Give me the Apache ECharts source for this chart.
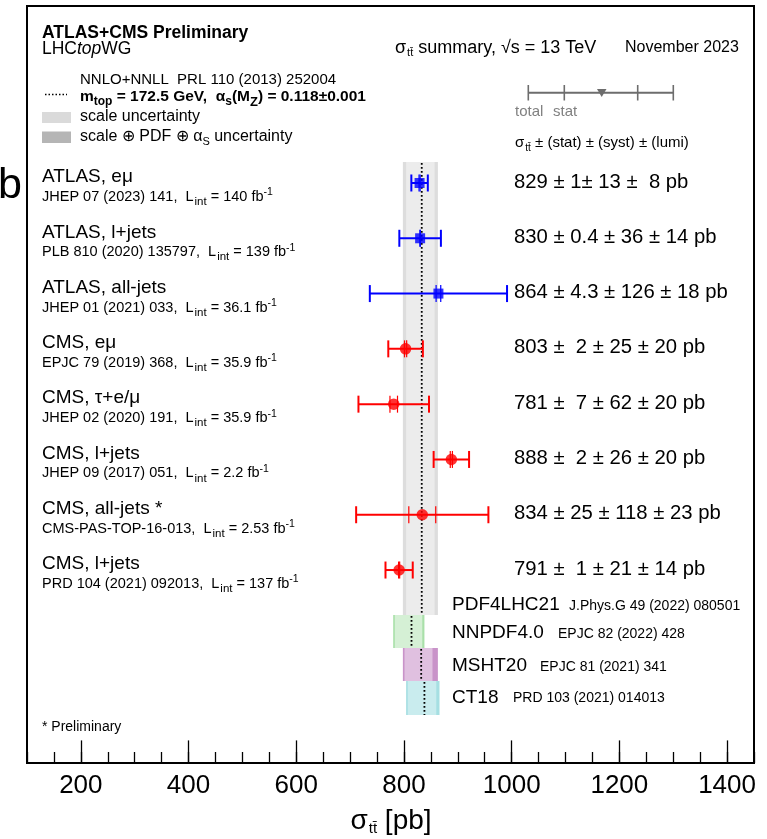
<!DOCTYPE html>
<html><head><meta charset="utf-8">
<script src="https://cdn.jsdelivr.net/npm/echarts@6/dist/echarts.min.js"></script>
<style>html,body{margin:0;padding:0;background:#fff}#c{width:767px;height:839px}</style>
</head><body><div id="c"></div>
<script>
// ---------------- DATA ----------------
const rowTitles = ['ATLAS, eμ', 'ATLAS, l+jets', 'ATLAS, all-jets', 'CMS, eμ', 'CMS, τ+e/μ', 'CMS, l+jets', 'CMS, all-jets *', 'CMS, l+jets'];
const rowRefs = ['JHEP 07 (2023) 141', 'PLB 810 (2020) 135797', 'JHEP 01 (2021) 033', 'EPJC 79 (2019) 368', 'JHEP 02 (2020) 191', 'JHEP 09 (2017) 051', 'CMS-PAS-TOP-16-013', 'PRD 104 (2021) 092013'];
const rowLumi = ['140', '139', '36.1', '35.9', '35.9', '2.2', '2.53', '137'];
const experiment = ['ATLAS', 'ATLAS', 'ATLAS', 'CMS', 'CMS', 'CMS', 'CMS', 'CMS'];
const xsec = [829, 830, 864, 803, 781, 888, 834, 791];
const statErr = [1, 0.4, 4.3, 2, 7, 2, 25, 1];
const systErr = [13, 36, 126, 25, 62, 26, 118, 21];
const lumiErr = [8, 14, 18, 20, 20, 20, 23, 14];
const totalErr = [15.3, 38.6, 127.4, 32.1, 65.5, 32.9, 122.8, 25.3];
const valueLabels = ['829 ± 1± 13 ±  8 pb', '830 ± 0.4 ± 36 ± 14 pb', '864 ± 4.3 ± 126 ± 18 pb', '803 ±  2 ± 25 ± 20 pb', '781 ±  7 ± 62 ± 20 pb', '888 ±  2 ± 26 ± 20 pb', '834 ± 25 ± 118 ± 23 pb', '791 ±  1 ± 21 ± 14 pb'];

const theoryNames = ['PDF4LHC21', 'NNPDF4.0', 'MSHT20', 'CT18'];
const theoryRefs = ['J.Phys.G 49 (2022) 080501', 'EPJC 82 (2022) 428', 'EPJC 81 (2021) 341', 'PRD 103 (2021) 014013'];
const theoryCentral = [833, 814, 832, 838];
const theoryScaleLo = [804, 783, 801, 807];
const theoryScaleHi = [857, 834, 853, 860];
const theoryTotalLo = [798, 780, 798, 804];
const theoryTotalHi = [863, 838, 863, 866];

const xTickLabels = [200, 400, 600, 800, 1000, 1200, 1400];

// ---------------- LAYOUT / STYLE ----------------
const FONT = '"Liberation Sans", Arial, Helvetica, sans-serif';
const BLUE = '#0000ff', RED = '#ff0000';
const Y_MIN = -3.201, Y_MAX = 10.49;
const bandRows = [[-0.38, 7.813], [7.813, 8.41], [8.41, 9.007], [9.007, 9.62]];
const bandOuter = ['#dddddd', '#a9e0a9', '#c993c9', '#a6dfe2'];
const bandInner = ['#ececec', '#d5f0d5', '#e0c0e0', '#c9ecee'];

const chart = echarts.init(document.getElementById('c'), null, {renderer: 'canvas'});

const grid = {left: 27, right: 13, top: 6, bottom: 76};

const bandSeries = {
  type: 'custom', xAxisIndex: 0, yAxisIndex: 0, z: 2, silent: true,
  data: theoryNames.map((n, i) => [theoryCentral[i], theoryTotalLo[i], theoryTotalHi[i], theoryScaleLo[i], theoryScaleHi[i], bandRows[i][0], bandRows[i][1]]),
  encode: {x: 0, y: 5},
  renderItem(params, api) {
    const i = params.dataIndex;
    const c = api.value(0), tl = api.value(1), th = api.value(2), sl = api.value(3), sh = api.value(4), y0 = api.value(5), y1 = api.value(6);
    const a = api.coord([tl, y0]), b = api.coord([th, y1]);
    const a2 = api.coord([sl, y0]), b2 = api.coord([sh, y1]);
    const c0 = api.coord([c, y0]), c1 = api.coord([c, y1]);
    return {type: 'group', children: [
      {type: 'rect', shape: {x: a[0], y: a[1], width: b[0] - a[0], height: b[1] - a[1]}, style: {fill: bandOuter[i]}},
      {type: 'rect', shape: {x: a2[0], y: a2[1], width: b2[0] - a2[0], height: b2[1] - a2[1]}, style: {fill: bandInner[i]}},
      {type: 'line', shape: {x1: c0[0], y1: c0[1] + 1, x2: c1[0], y2: c1[1]}, style: {stroke: '#000', lineWidth: 1.8, lineDash: [1.8, 2.2]}}
    ]};
  }
};

const barSeries = {
  type: 'custom', xAxisIndex: 0, yAxisIndex: 0, z: 5, silent: true,
  data: xsec.map((v, i) => [v, i, totalErr[i], statErr[i], experiment[i] === 'ATLAS' ? 0 : 1]),
  encode: {x: 0, y: 1},
  renderItem(params, api) {
    const c = api.value(0), r = api.value(1), t = api.value(2), s = api.value(3);
    const col = api.value(4) === 0 ? BLUE : RED;
    const L = api.coord([c - t, r]), R = api.coord([c + t, r]);
    const sL = api.coord([c - s, r]), sR = api.coord([c + s, r]);
    const h = 8.5;
    const ln = (x1, y1, x2, y2, w) => ({type: 'line', shape: {x1, y1, x2, y2}, style: {stroke: col, lineWidth: w}});
    return {type: 'group', children: [
      ln(L[0], L[1], R[0], R[1], 2),
      ln(L[0], L[1] - h, L[0], L[1] + h, 2),
      ln(R[0], R[1] - h, R[0], R[1] + h, 2),
      ln(sL[0], sL[1] - h, sL[0], sL[1] + h, 1.2),
      ln(sR[0], sR[1] - h, sR[0], sR[1] + h, 1.2)
    ]};
  }
};

const atlasPts = [], cmsPts = [];
xsec.forEach((v, i) => (experiment[i] === 'ATLAS' ? atlasPts : cmsPts).push([v, i]));

chart.setOption({
  animation: false,
  backgroundColor: '#fff',
  grid: [Object.assign({show: true, borderColor: '#000', borderWidth: 2, backgroundColor: 'transparent'}, grid), Object.assign({show: false}, grid)],
  xAxis: [
    {gridIndex: 0, type: 'value', min: 100, max: 1450, interval: 50, position: 'bottom',
      axisLine: {show: true, onZero: false, lineStyle: {color: '#000', width: 2}},
      axisTick: {show: true, inside: true, length: 11, lineStyle: {color: '#000', width: 1.3}},
      axisLabel: {show: true, formatter: v => (xTickLabels.indexOf(v) >= 0 ? String(v) : ''), fontSize: 26, color: '#000', margin: 10, fontFamily: FONT},
      splitLine: {show: false}},
    {gridIndex: 1, type: 'value', min: 100, max: 1450, interval: 50, position: 'bottom',
      axisLine: {show: false, onZero: false},
      axisTick: {show: true, inside: true, length: 22.6, customValues: xTickLabels, lineStyle: {color: '#000', width: 1.3}},
      axisLabel: {show: false}, splitLine: {show: false}}
  ],
  yAxis: [
    {gridIndex: 0, type: 'value', inverse: true, min: Y_MIN, max: Y_MAX, show: false},
    {gridIndex: 1, type: 'value', inverse: true, min: Y_MIN, max: Y_MAX, show: false}
  ],
  series: [
    bandSeries,
    barSeries,
    {type: 'scatter', xAxisIndex: 0, yAxisIndex: 0, z: 6, silent: true, data: atlasPts, symbol: 'rect', symbolSize: 10, itemStyle: {color: BLUE}},
    {type: 'scatter', xAxisIndex: 0, yAxisIndex: 0, z: 6, silent: true, data: cmsPts, symbol: 'circle', symbolSize: 11.5, itemStyle: {color: RED}}
  ]
});

// ---------------- TEXT (graphic) ----------------
function rs(size, extra) { return Object.assign({fontFamily: FONT, fontSize: size, fill: '#000', verticalAlign: 'middle'}, extra || {}); }
function txt(x, y, text, o) {
  return {type: 'text', x, y, z: 100, silent: true,
    style: Object.assign({text, fontFamily: FONT, fontSize: 14, fill: '#000', verticalAlign: 'middle', align: 'left'}, o || {})};
}
function rowY(i) { return chart.convertToPixel({gridIndex: 0}, [500, i])[1]; }

const g = [];
// figure label fragment
g.push(txt(-2, 186, 'b', {fontSize: 43}));
// header left
g.push(txt(42, 33, 'ATLAS+CMS Preliminary', {fontSize: 17.5, fontWeight: 'bold'}));
g.push(txt(42, 49, '{n|LHC}{i|top}{n|WG}', {rich: {n: rs(17.5), i: rs(17.5, {fontStyle: 'italic'})}}));
g.push({type: 'line', z: 100, silent: true, shape: {x1: 45, y1: 94.5, x2: 67, y2: 94.5}, style: {stroke: '#000', lineWidth: 1.5, lineDash: [1.5, 2]}});
g.push(txt(80, 80, 'NNLO+NNLL  PRL 110 (2013) 252004', {fontSize: 15}));
g.push(txt(80, 97, '{b|m}{bs|top}{b| = 172.5 GeV,  α}{bs|s}{b|(M}{bz|Z}{b|) = 0.118±0.001}', {rich: {
  b: rs(15.5, {fontWeight: 'bold'}), bs: rs(12, {fontWeight: 'bold', padding: [9, 0, 0, 0]}), bz: rs(13, {fontWeight: 'bold', padding: [11, 0, 0, 0]})}}));
g.push({type: 'rect', z: 100, silent: true, shape: {x: 42, y: 112, width: 29, height: 11}, style: {fill: '#dadada'}});
g.push({type: 'rect', z: 100, silent: true, shape: {x: 42, y: 131.5, width: 29, height: 11.5}, style: {fill: '#b5b5b5'}});
g.push(txt(80, 117, 'scale uncertainty', {fontSize: 16}));
g.push(txt(80, 137, '{t|scale ⊕ PDF ⊕ α}{s|S}{t| uncertainty}', {rich: {t: rs(16), s: rs(11, {padding: [9, 0, 0, 0]})}}));
// header right
g.push(txt(395, 48, '{t|σ}{s|tt\u0304}{t| summary, √s = 13 TeV}', {rich: {t: rs(18), s: rs(11, {padding: [10, 0, 0, 1]})}}));
g.push(txt(625, 48, 'November 2023', {fontSize: 16}));
// total/stat legend
const LG = '#6d6d6d';
g.push({type: 'line', z: 100, silent: true, shape: {x1: 528.3, y1: 92.7, x2: 673.3, y2: 92.7}, style: {stroke: LG, lineWidth: 2}});
[528.3, 564.3, 637.7, 673.3].forEach(x => g.push({type: 'line', z: 100, silent: true, shape: {x1: x, y1: 85, x2: x, y2: 100.5}, style: {stroke: LG, lineWidth: 1.6}}));
g.push({type: 'polygon', z: 101, silent: true, shape: {points: [[597, 89], [606.5, 89], [601.7, 97]]}, style: {fill: LG}});
g.push(txt(515, 112, 'total', {fontSize: 15, fill: '#808080'}));
g.push(txt(553, 112, 'stat', {fontSize: 15, fill: '#808080'}));
g.push(txt(515, 143, '{t|σ}{s|tt\u0304}{t| ± (stat) ± (syst) ± (lumi)}', {rich: {t: rs(15), s: rs(10, {padding: [10, 0, 0, 1]})}}));

// measurement rows
rowTitles.forEach((t, i) => {
  const y = rowY(i);
  g.push(txt(42, y - 6, t, {fontSize: 19}));
  g.push(txt(42, y + 14, '{t|' + rowRefs[i] + ',  L}{s|int}{t| = ' + rowLumi[i] + ' fb}{p|-1}', {rich: {
    t: rs(14.5), s: rs(11.5, {padding: [10, 0, 0, 1]}), p: rs(10.5, {padding: [0, 0, 9, 0]})}}));
  g.push(txt(514, y - 1, valueLabels[i], {fontSize: 20.3}));
});

// theory labels
const thY = [605, 633, 666, 697.5];
const thRefX = [569, 558, 540, 513];
theoryNames.forEach((n, i) => {
  g.push(txt(452, thY[i], n, {fontSize: 19}));
  g.push(txt(thRefX[i], thY[i] + 1, theoryRefs[i], {fontSize: 14}));
});

g.push(txt(42, 727, '* Preliminary', {fontSize: 14}));
// axis title
g.push(txt(391, 821, '{t|σ}{s|tt\u0304}{t| [pb]}', {align: 'center', rich: {t: rs(28), s: rs(15, {padding: [15, 0, 0, 1]})}}));

chart.setOption({graphic: g});
</script>
</body></html>
